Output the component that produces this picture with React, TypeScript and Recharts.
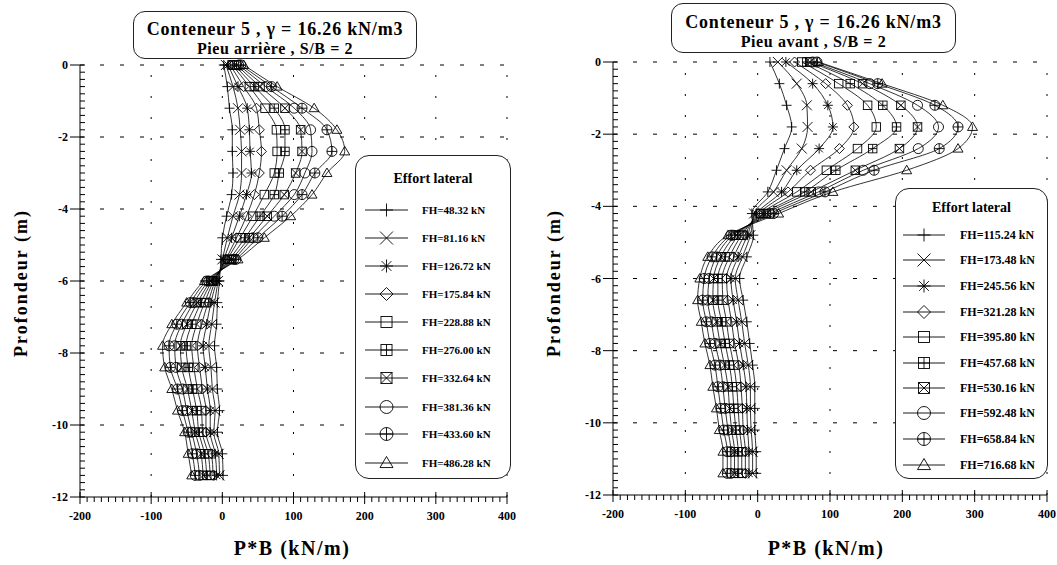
import React from 'react';
import { LineChart, Line, XAxis, YAxis, ReferenceLine } from 'recharts';

// profondeurs des points de mesure (m)
const DEPTHS = [0, -0.6, -1.2, -1.8, -2.4, -3, -3.6, -4.2, -4.8, -5.4, -6, -6.6, -7.2, -7.8, -8.4, -9, -9.6, -10.2, -10.8, -11.4];

const X_LABELS = [-200, -100, 0, 100, 200, 300, 400];
const Y_LABELS = [0, -2, -4, -6, -8, -10, -12];
const X_GRID = [-100, 0, 100, 200, 300, 400];
const Y_GRID = [0, -2, -4, -6, -8, -10];

// Pieu arrière (P*B en kN/m)
const rear48 = [2, 7, 10, 14, 14, 15, 13, 6, 0, -2, -4, -7, -8, -11, -8, -7, -4, -7, 0, 1];
const rear81 = [5, 15, 22, 25, 27, 27, 24, 15, 7, 0, -6, -11, -15, -19, -16, -14, -10, -12, -5, -4];
const rear126 = [8, 22, 35, 38, 39, 41, 34, 24, 13, 2, -8, -16, -22, -27, -24, -21, -17, -17, -10, -8];
const rear175 = [11, 30, 48, 52, 55, 52, 45, 34, 20, 5, -10, -20, -29, -35, -32, -28, -23, -23, -15, -13];
const rear228 = [14, 38, 60, 76, 77, 73, 59, 43, 25, 7, -12, -25, -36, -43, -40, -35, -29, -28, -20, -17];
const rear276 = [17, 45, 73, 88, 88, 80, 73, 53, 32, 10, -14, -30, -43, -51, -48, -42, -36, -33, -25, -22];
const rear332 = [20, 53, 88, 110, 112, 103, 87, 63, 38, 13, -16, -35, -50, -59, -57, -49, -43, -38, -30, -27];
const rear381 = [23, 61, 101, 124, 126, 116, 101, 73, 43, 16, -19, -40, -57, -67, -65, -56, -50, -43, -36, -32];
const rear433 = [26, 69, 112, 147, 154, 130, 112, 84, 50, 19, -22, -45, -64, -75, -73, -63, -56, -48, -42, -38];
const rear486 = [30, 77, 129, 161, 172, 147, 126, 96, 59, 22, -25, -50, -71, -84, -81, -71, -63, -53, -48, -43];

// Pieu avant
const front115 = [17, 30, 40, 47, 37, 26, 14, -8, -6, -15, -25, -20, -15, -11, -7, -4, -4, -4, -2, -2];
const front173 = [28, 54, 68, 69, 61, 40, 22, -5, -10, -21, -31, -27, -22, -18, -13, -10, -10, -9, -7, -7];
const front245 = [39, 76, 97, 104, 85, 54, 33, -2, -14, -27, -37, -34, -29, -25, -20, -16, -15, -14, -12, -12];
const front321 = [51, 94, 124, 133, 113, 73, 42, 1, -18, -33, -43, -41, -36, -32, -26, -23, -21, -20, -17, -17];
const front395 = [61, 112, 152, 164, 138, 95, 54, 4, -22, -39, -49, -48, -43, -39, -33, -29, -27, -25, -22, -22];
const front457 = [68, 128, 173, 192, 159, 108, 65, 8, -26, -45, -55, -55, -50, -45, -39, -35, -33, -30, -27, -27];
const front530 = [72, 145, 198, 221, 196, 135, 74, 12, -30, -51, -61, -62, -57, -52, -46, -41, -39, -36, -32, -32];
const front592 = [76, 155, 221, 250, 222, 146, 84, 17, -34, -57, -67, -69, -64, -59, -52, -48, -45, -41, -37, -37];
const front658 = [82, 166, 245, 277, 251, 161, 93, 22, -37, -63, -74, -76, -71, -66, -59, -55, -51, -47, -42, -42];
const front716 = [84, 172, 256, 297, 277, 206, 104, 29, -41, -69, -80, -83, -78, -73, -66, -62, -57, -53, -48, -48];

const REAR_SERIES = [rear48, rear81, rear126, rear175, rear228, rear276, rear332, rear381, rear433, rear486];
const FRONT_SERIES = [front115, front173, front245, front321, front395, front457, front530, front592, front658, front716];

const REAR_LABELS = ['FH=48.32 kN', 'FH=81.16 kN', 'FH=126.72 kN', 'FH=175.84 kN', 'FH=228.88 kN', 'FH=276.00 kN', 'FH=332.64 kN', 'FH=381.36 kN', 'FH=433.60 kN', 'FH=486.28 kN'];
const FRONT_LABELS = ['FH=115.24 kN', 'FH=173.48 kN', 'FH=245.56 kN', 'FH=321.28 kN', 'FH=395.80 kN', 'FH=457.68 kN', 'FH=530.16 kN', 'FH=592.48 kN', 'FH=658.84 kN', 'FH=716.68 kN'];

const MARKERS = ['plus', 'cross', 'star', 'diamond', 'square', 'squarePlus', 'squareCross', 'circle', 'circlePlus', 'triangle'];

const FONT = 'Liberation Serif, Times New Roman, serif';

// graduations secondaires : tous les 10 kN/m et tous les 0.2 m
const X_TICKS: number[] = [];
for (let k = -20; k <= 40; k++) X_TICKS.push(k * 10);
const Y_TICKS: number[] = [];
for (let k = 0; k <= 60; k++) Y_TICKS.push(-k / 5);

function Marker({ cx, cy, kind, r = 5 }: { cx: number; cy: number; kind: string; r?: number }) {
  const st = { stroke: '#000', strokeWidth: 0.9, fill: 'none' };
  const q = r * 0.85;
  const plus = (s: number) => <path d={`M${cx - s},${cy}H${cx + s}M${cx},${cy - s}V${cy + s}`} {...st} />;
  const cross = (s: number) => (
    <path d={`M${cx - s},${cy - s}L${cx + s},${cy + s}M${cx - s},${cy + s}L${cx + s},${cy - s}`} {...st} />
  );
  switch (kind) {
    case 'plus':
      return <g>{plus(r)}</g>;
    case 'cross':
      return <g>{cross(r)}</g>;
    case 'star':
      return (
        <g>
          {plus(r)}
          {cross(r * 0.75)}
        </g>
      );
    case 'diamond':
      return <path d={`M${cx},${cy - r}L${cx + r},${cy}L${cx},${cy + r}L${cx - r},${cy}Z`} {...st} />;
    case 'square':
      return <rect x={cx - q} y={cy - q} width={2 * q} height={2 * q} {...st} />;
    case 'squarePlus':
      return (
        <g>
          <rect x={cx - q} y={cy - q} width={2 * q} height={2 * q} {...st} />
          {plus(q)}
        </g>
      );
    case 'squareCross':
      return (
        <g>
          <rect x={cx - q} y={cy - q} width={2 * q} height={2 * q} {...st} />
          {cross(q)}
        </g>
      );
    case 'circle':
      return <circle cx={cx} cy={cy} r={r} {...st} />;
    case 'circlePlus':
      return (
        <g>
          <circle cx={cx} cy={cy} r={r} {...st} />
          {plus(r)}
        </g>
      );
    default:
      return <path d={`M${cx},${cy - r}L${cx + r},${cy + r * 0.7}L${cx - r},${cy + r * 0.7}Z`} {...st} />;
  }
}

function XTick(props: any) {
  const { x, y, payload } = props;
  const v = payload.value;
  const major = X_LABELS.includes(v);
  return (
    <g>
      {major ? (
        <line x1={x} x2={x} y1={y - 5} y2={y + 7} stroke="#000" />
      ) : (
        <line x1={x} x2={x} y1={y} y2={y + 5} stroke="#000" />
      )}
      {major && (
        <text x={x} y={y + 23} textAnchor="middle" fontSize={12} fontWeight={700} fontFamily={FONT} fill="#000">
          {v}
        </text>
      )}
    </g>
  );
}

function YTick(props: any) {
  const { x, y, payload } = props;
  const v = payload.value;
  const major = Y_LABELS.some((t) => Math.abs(t - v) < 1e-6);
  return (
    <g>
      {major ? (
        <line x1={x - 10} x2={x + 5} y1={y} y2={y} stroke="#000" />
      ) : (
        <line x1={x} x2={x + 5} y1={y} y2={y} stroke="#000" />
      )}
      {major && (
        <text x={x - 12} y={y + 4} textAnchor="end" fontSize={12} fontWeight={700} fontFamily={FONT} fill="#000">
          {Math.round(v)}
        </text>
      )}
    </g>
  );
}

interface PanelProps {
  left: number;
  width: number;
  margin: { top: number; right: number; bottom: number; left: number };
  series: number[][];
}

function Panel({ left, width, margin, series }: PanelProps) {
  const data = DEPTHS.map((d, i) => {
    const row: Record<string, number> = { d };
    series.forEach((s, k) => {
      row['s' + k] = s[i];
    });
    return row;
  });
  return (
    <div style={{ position: 'absolute', left, top: 0 }}>
      <LineChart width={width} height={565} data={data} layout="vertical" margin={margin}>
        <XAxis
          type="number"
          domain={[-200, 400]}
          ticks={X_TICKS}
          interval={0}
          tick={<XTick />}
          tickLine={false}
          tickSize={0}
          tickMargin={0}
          height={40}
          axisLine={{ stroke: '#000' }}
        />
        <YAxis
          type="number"
          dataKey="d"
          domain={[-12, 0]}
          reversed
          ticks={Y_TICKS}
          interval={0}
          tick={<YTick />}
          tickLine={false}
          tickSize={0}
          tickMargin={0}
          width={30}
          axisLine={{ stroke: '#000' }}
        />
        {Y_GRID.map((v) => (
          <ReferenceLine key={'h' + v} y={v} stroke="#000" strokeWidth={1} strokeDasharray="4 16" />
        ))}
        {X_GRID.map((v) => (
          <ReferenceLine key={'v' + v} x={v} stroke="#000" strokeWidth={1} strokeDasharray="2 19" />
        ))}
        {series.map((_, k) => (
          <Line
            key={k}
            dataKey={'s' + k}
            type="monotone"
            stroke="#000"
            strokeWidth={0.8}
            isAnimationActive={false}
            activeDot={false}
            dot={(p: any) => <Marker key={`${k}-${p.index}`} cx={p.cx} cy={p.cy} kind={MARKERS[k]} />}
          />
        ))}
      </LineChart>
    </div>
  );
}

interface LegendProps {
  x: number;
  y: number;
  w: number;
  h: number;
  titleY: number;
  rows: number[];
  lineX: [number, number];
  textX: number;
  fontSize: number;
  labels: string[];
}

function LegendBox({ x, y, w, h, titleY, rows, lineX, textX, fontSize, labels }: LegendProps) {
  const mx = (lineX[0] + lineX[1]) / 2;
  return (
    <div
      style={{
        position: 'absolute',
        left: x,
        top: y,
        width: w,
        height: h,
        border: '1px solid #222',
        borderRadius: 14,
        background: '#fff',
        boxSizing: 'border-box',
      }}
    >
      <svg width={w} height={h} style={{ position: 'absolute', left: -1, top: -1 }}>
        <text x={w / 2} y={titleY} textAnchor="middle" fontFamily={FONT} fontWeight={700} fontSize={14}>
          Effort lateral
        </text>
        {labels.map((lab, k) => (
          <g key={lab}>
            <line x1={lineX[0]} x2={lineX[1]} y1={rows[k]} y2={rows[k]} stroke="#000" strokeWidth={0.9} />
            <Marker cx={mx} cy={rows[k]} kind={MARKERS[k]} r={6.5} />
            <text x={textX} y={rows[k] + 4} fontFamily={FONT} fontWeight={700} fontSize={fontSize}>
              {lab}
            </text>
          </g>
        ))}
      </svg>
    </div>
  );
}

function TitleBox({ x, y, w, h, l1, l2, b1, b2 }: any) {
  return (
    <div
      style={{
        position: 'absolute',
        left: x,
        top: y,
        width: w,
        height: h,
        border: '1px solid #222',
        borderRadius: 12,
        background: '#fff',
        boxSizing: 'border-box',
      }}
    >
      <svg width={w} height={h} style={{ position: 'absolute', left: -1, top: -1 }}>
        <text x={w / 2} y={b1} textAnchor="middle" fontFamily={FONT} fontWeight={700} fontSize={18} letterSpacing={0.8}>
          {l1}
        </text>
        <text x={w / 2} y={b2} textAnchor="middle" fontFamily={FONT} fontWeight={700} fontSize={16} letterSpacing={0.6}>
          {l2}
        </text>
      </svg>
    </div>
  );
}

export default function App() {
  return (
    <div style={{ position: 'absolute', left: 0, top: 0, width: 1057, height: 565, background: '#fff', overflow: 'hidden' }}>
      <Panel left={0} width={530} margin={{ top: 65, right: 23, bottom: 28, left: 50 }} series={REAR_SERIES} />
      <Panel left={530} width={527} margin={{ top: 62, right: 10, bottom: 30, left: 53 }} series={FRONT_SERIES} />

      <svg width={1057} height={565} style={{ position: 'absolute', left: 0, top: 0, pointerEvents: 'none' }}>
        <text
          transform="translate(27,283) rotate(-90)"
          textAnchor="middle"
          fontFamily={FONT}
          fontWeight={700}
          fontSize={18}
          letterSpacing={2}
        >
          Profondeur (m)
        </text>
        <text
          transform="translate(560,283) rotate(-90)"
          textAnchor="middle"
          fontFamily={FONT}
          fontWeight={700}
          fontSize={18}
          letterSpacing={2}
        >
          Profondeur (m)
        </text>
        <text x={292} y={555} textAnchor="middle" fontFamily={FONT} fontWeight={700} fontSize={20} letterSpacing={1.5}>
          P*B (kN/m)
        </text>
        <text x={826} y={555} textAnchor="middle" fontFamily={FONT} fontWeight={700} fontSize={20} letterSpacing={1.5}>
          P*B (kN/m)
        </text>
      </svg>

      <TitleBox x={133} y={11} w={284} h={48} l1="Conteneur 5 , γ = 16.26 kN/m3" l2="Pieu arrière , S/B = 2" b1={24} b2={43} />
      <TitleBox x={671} y={3} w={285} h={50} l1="Conteneur 5 , γ = 16.26 kN/m3" l2="Pieu avant , S/B = 2" b1={25} b2={44} />

      <LegendBox
        x={355}
        y={155}
        w={156}
        h={324}
        titleY={28}
        rows={[55, 83, 111, 139, 167, 195, 223, 252, 279, 308]}
        lineX={[10, 53]}
        textX={67}
        fontSize={11}
        labels={REAR_LABELS}
      />
      <LegendBox
        x={895}
        y={188}
        w={153}
        h={291}
        titleY={24}
        rows={[47, 72, 98, 124, 149, 175, 200, 225, 251, 277]}
        lineX={[8, 50]}
        textX={65}
        fontSize={12}
        labels={FRONT_LABELS}
      />
    </div>
  );
}
